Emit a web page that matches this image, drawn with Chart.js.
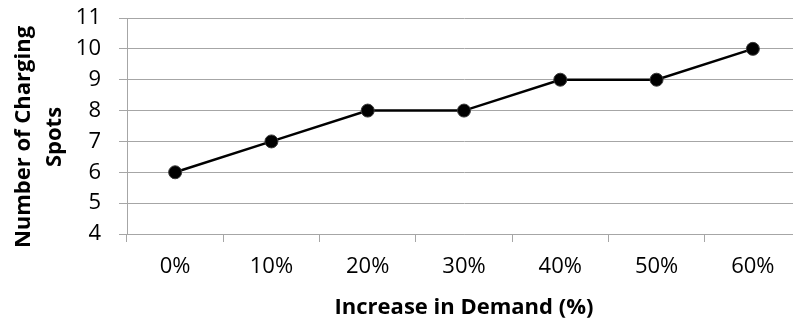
<!DOCTYPE html>
<html>
<head>
<meta charset="utf-8">
<script src="https://cdn.jsdelivr.net/npm/chart.js@4/dist/chart.umd.min.js"></script>
<style>
  html, body { margin: 0; padding: 0; background: #ffffff; overflow: hidden; }
  #wrap { position: relative; width: 801px; height: 324px; }
  canvas { display: block; }
</style>
</head>
<body>
<div id="wrap"><canvas id="chart" width="801" height="324"></canvas></div>
<script>
// Demand increase steps and the charging spots needed at each step
const demandLabels = ['0%', '10%', '20%', '30%', '40%', '50%', '60%'];
const chargingSpots = [6, 7, 8, 8, 9, 9, 10];
const yMin = 4;
const yMax = 11;
const xTitle = 'Increase in Demand (%)';
const yTitleLines = ['Number of Charging', 'Spots'];

const FONT = '"Open Sans", "DejaVu Sans", sans-serif';
const GRID = '#a6a6a6';

// Axis titles drawn beside the plot area
const axisTitles = {
  id: 'axisTitles',
  afterDraw(chart) {
    const { ctx, chartArea } = chart;
    ctx.save();
    ctx.fillStyle = '#000000';
    ctx.font = 'bold 22px ' + FONT;
    ctx.textAlign = 'center';
    ctx.textBaseline = 'middle';
    // horizontal title
    ctx.fillText(xTitle, (chartArea.left + chartArea.right) / 2, 308);
    // vertical title, two lines
    const cy = 137;
    const xs = [24, 55];
    yTitleLines.forEach((line, i) => {
      ctx.save();
      ctx.translate(xs[i], cy);
      ctx.rotate(-Math.PI / 2);
      ctx.fillText(line, 0, 0);
      ctx.restore();
    });
    ctx.restore();
  }
};

// keep the plot edges fixed instead of reserving room for edge labels
function noEdgePadding(scale) {
  scale.paddingTop = 0;
  scale.paddingBottom = 0;
  scale.paddingLeft = 0;
  scale.paddingRight = 0;
}

new Chart(document.getElementById('chart'), {
  type: 'line',
  data: {
    labels: demandLabels,
    datasets: [{
      data: chargingSpots,
      borderColor: '#000000',
      borderWidth: 2.5,
      backgroundColor: '#000000',
      pointBackgroundColor: '#000000',
      pointBorderColor: '#3a3a3a',
      pointBorderWidth: 1,
      pointRadius: 6.5,
      pointHoverRadius: 6.5,
      tension: 0,
      clip: false
    }]
  },
  options: {
    responsive: false,
    maintainAspectRatio: false,
    animation: false,
    devicePixelRatio: 1,
    layout: { autoPadding: false, padding: { top: 18, right: 0, bottom: 0, left: 0 } },
    plugins: {
      legend: { display: false },
      tooltip: { enabled: false },
      title: { display: false }
    },
    scales: {
      x: {
        type: 'category',
        offset: true,
        afterFit(scale) { scale.height = 90; noEdgePadding(scale); },
        grid: {
          offset: true,
          drawOnChartArea: false,
          drawTicks: true,
          tickLength: 8,
          color: GRID,
          lineWidth: 1
        },
        border: { display: true, color: GRID, width: 1 },
        ticks: {
          color: '#000000',
          font: { family: FONT, size: 22 },
          padding: 12,
          maxRotation: 0,
          autoSkip: false
        }
      },
      y: {
        min: yMin,
        max: yMax,
        afterFit(scale) { scale.width = 127; noEdgePadding(scale); },
        grid: {
          drawTicks: true,
          tickLength: 8,
          color: GRID,
          lineWidth: 1
        },
        border: { display: true, color: GRID, width: 1 },
        ticks: {
          stepSize: 1,
          autoSkip: false,
          color: '#000000',
          font: { family: FONT, size: 22 },
          padding: 18
        }
      }
    }
  },
  plugins: [axisTitles]
});
</script>
</body>
</html>
